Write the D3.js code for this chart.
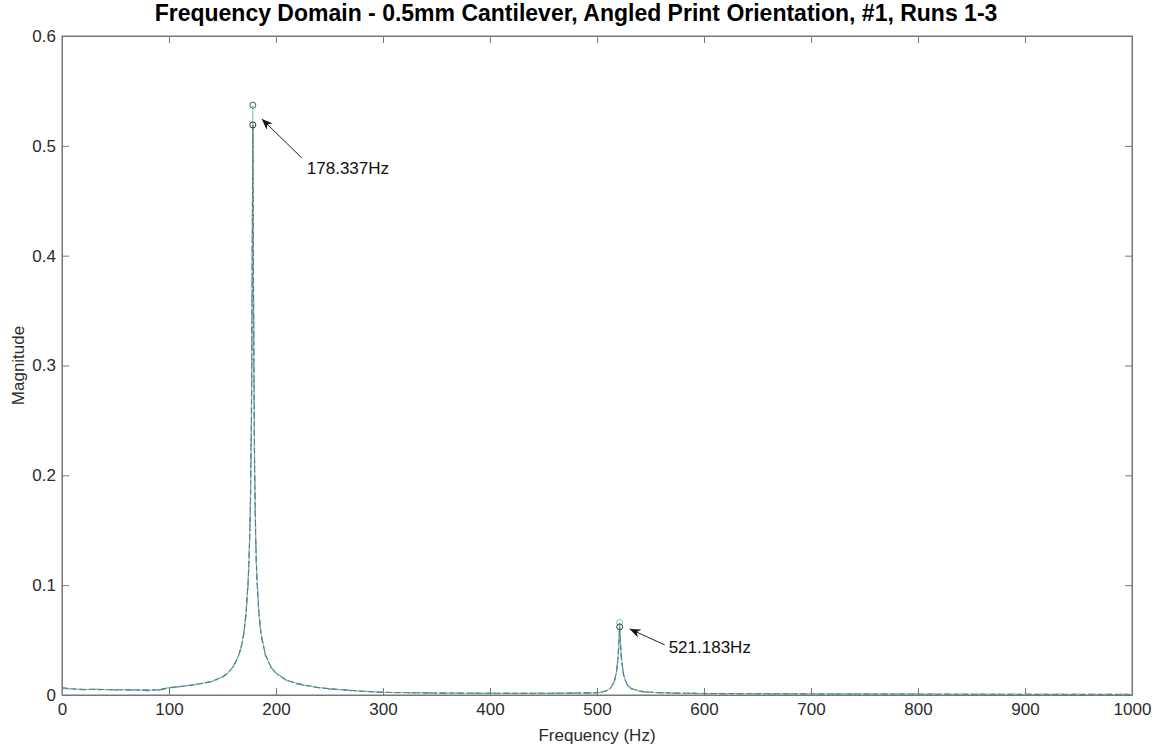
<!DOCTYPE html>
<html><head><meta charset="utf-8">
<script src="https://cdn.jsdelivr.net/npm/d3@7"></script>
<style>body{margin:0;background:#fff;} svg{display:block;font-family:"Liberation Sans",Arial,sans-serif;}</style>
</head><body><svg id="c" width="1167" height="754"></svg>
<script>
const title = "Frequency Domain - 0.5mm Cantilever, Angled Print Orientation, #1, Runs 1-3";
const xLabel = "Frequency (Hz)";
const yLabel = "Magnitude";
const xTicks = [0,100,200,300,400,500,600,700,800,900,1000];
const yTicks = [0,0.1,0.2,0.3,0.4,0.5,0.6];
const freq = [0,10,20,30,40,50,60,70,80,90,100,110,120,130,140,150,155,160,165,168,170,172,174,175,176,177,177.5,178,178.337,178.7,179,179.5,180,181,182,184,186,190,195,200,210,220,230,240,250,260,280,300,350,400,450,500,505,510,513,516,518,519.5,520.5,521.183,522,523,525,528,532,540,550,570,600,650,700,800,900,1000];
const run1 = [0.0062,0.0054,0.0049,0.0051,0.0049,0.0047,0.0046,0.0044,0.0040,0.0042,0.0064,0.0076,0.0088,0.0103,0.0123,0.0163,0.0198,0.0257,0.0355,0.0452,0.0562,0.0740,0.1030,0.1280,0.1670,0.2450,0.3250,0.4400,0.5190,0.4500,0.3620,0.2740,0.2060,0.1420,0.1080,0.0740,0.0552,0.0365,0.0256,0.0196,0.0132,0.0102,0.0083,0.0066,0.0056,0.0048,0.0034,0.0024,0.0017,0.0015,0.0014,0.0019,0.0027,0.0043,0.0065,0.0115,0.0192,0.0315,0.0470,0.0600,0.0455,0.0305,0.0172,0.0096,0.0058,0.0034,0.0024,0.0017,0.0013,0.0011,0.0009,0.0007,0.0006,0.0005];
const run2 = [0.0066,0.0056,0.0051,0.0052,0.0050,0.0048,0.0048,0.0047,0.0046,0.0048,0.0066,0.0077,0.0089,0.0104,0.0124,0.0164,0.0199,0.0258,0.0357,0.0455,0.0565,0.0745,0.1040,0.1290,0.1680,0.2470,0.3280,0.4420,0.5190,0.4520,0.3640,0.2760,0.2070,0.1430,0.1090,0.0745,0.0556,0.0368,0.0258,0.0198,0.0134,0.0104,0.0084,0.0067,0.0057,0.0049,0.0034,0.0024,0.0018,0.0016,0.0015,0.0020,0.0028,0.0044,0.0067,0.0118,0.0196,0.0322,0.0482,0.0620,0.0465,0.0312,0.0176,0.0098,0.0059,0.0035,0.0025,0.0018,0.0014,0.0012,0.0010,0.0008,0.0006,0.0005];
const run3 = [0.0065,0.0055,0.0050,0.0052,0.0050,0.0048,0.0048,0.0047,0.0045,0.0048,0.0068,0.0078,0.0090,0.0105,0.0125,0.0165,0.0200,0.0260,0.0360,0.0460,0.0570,0.0750,0.1050,0.1300,0.1700,0.2500,0.3300,0.4500,0.5370,0.4600,0.3700,0.2800,0.2100,0.1450,0.1100,0.0750,0.0560,0.0370,0.0260,0.0200,0.0135,0.0105,0.0085,0.0068,0.0058,0.0050,0.0035,0.0025,0.0018,0.0016,0.0015,0.0020,0.0028,0.0045,0.0068,0.0120,0.0200,0.0330,0.0500,0.0660,0.0480,0.0320,0.0180,0.0100,0.0060,0.0035,0.0025,0.0018,0.0014,0.0012,0.0010,0.0008,0.0006,0.0005];
const peakFreqs = [178.337, 178.337, 521.183, 521.183];
const peakMags = [0.537, 0.519, 0.066, 0.062];
const peakColors = ["#555555", "#333333", "#5cc8c0", "#444444"];
const annoText = ["178.337Hz", "521.183Hz"];
const annoFreq = [178.337, 521.183];
const annoMag = [0.519, 0.062];

const svg = d3.select("#c");
const L = 62, R = 1132, T = 36, B = 695;
const x = d3.scaleLinear().domain([0,1000]).range([L,R]);
const y = d3.scaleLinear().domain([0,0.6]).range([B,T]);
const axisCol = "#2b2b2b";
const FS = "17px";

svg.append("rect").attr("x",L).attr("y",T).attr("width",R-L).attr("height",B-T)
  .attr("fill","none").attr("stroke","#777").attr("stroke-width",1);

const fmtY = d => d === 0 ? "0" : d3.format(".1f")(d);
const gx = svg.append("g").attr("transform",`translate(0,${B})`)
  .call(d3.axisBottom(x).tickValues(xTicks).tickSize(-7).tickPadding(8).tickFormat(d3.format("d")));
const gxt = svg.append("g").attr("transform",`translate(0,${T})`)
  .call(d3.axisTop(x).tickValues(xTicks).tickSize(-7).tickFormat(""));
const gy = svg.append("g").attr("transform",`translate(${L},0)`)
  .call(d3.axisLeft(y).tickValues(yTicks).tickSize(-7).tickPadding(6).tickFormat(fmtY));
const gyr = svg.append("g").attr("transform",`translate(${R},0)`)
  .call(d3.axisRight(y).tickValues(yTicks).tickSize(-7).tickFormat(""));
[gx,gxt,gy,gyr].forEach(g=>{
  g.select(".domain").attr("stroke","#777");
  g.selectAll(".tick line").attr("stroke","#777");
  g.selectAll("text").attr("fill",axisCol).style("font-size",FS).style("font-family","'Liberation Sans',Arial,sans-serif");
});

const line = d3.line().x((d,i)=>x(freq[i])).y(d=>y(d));
svg.append("path").datum(run1).attr("d",line).attr("fill","none").attr("stroke","#2f6db5").attr("stroke-width",1.2).attr("stroke-dasharray","8,3,2,3");
svg.append("path").datum(run3).attr("d",line).attr("fill","none").attr("stroke","#6fcfc8").attr("stroke-width",1.1);
svg.append("path").datum(run2).attr("d",line).attr("fill","none").attr("stroke","#707070").attr("stroke-width",1).attr("stroke-dasharray","6,3");

svg.selectAll("circle.pk").data(peakFreqs).enter().append("circle").attr("class","pk")
  .attr("cx",d=>x(d)).attr("cy",(d,i)=>y(peakMags[i])).attr("r",3)
  .attr("fill","none").attr("stroke",(d,i)=>peakColors[i]).attr("stroke-width",1);

svg.append("defs").append("marker").attr("id","ah").attr("viewBox","0 0 10 10").attr("refX",10).attr("refY",5)
  .attr("markerWidth",11).attr("markerHeight",11).attr("markerUnits","userSpaceOnUse").attr("orient","auto")
  .append("path").attr("d","M0,1 L10,5 L0,9 L3,5 Z").attr("fill","#111");
const annoOff = [[49,33,54,49],[45,18,49,26]];
const headOff = [[9,-6],[10,2]];
annoFreq.forEach((f,i)=>{
  const px = x(f), py = y(annoMag[i]);
  svg.append("line").attr("x1",px+annoOff[i][0]).attr("y1",py+annoOff[i][1])
    .attr("x2",px+headOff[i][0]).attr("y2",py+headOff[i][1]).attr("stroke","#222").attr("stroke-width",1).attr("marker-end","url(#ah)");
  svg.append("text").attr("x",px+annoOff[i][2]).attr("y",py+annoOff[i][3]).text(annoText[i])
    .attr("fill","#111").style("font-size",FS);
});

svg.append("text").attr("x",576).attr("y",21).attr("text-anchor","middle")
  .style("font-weight","bold").style("font-size","23px").attr("fill","#000").text(title);
svg.append("text").attr("x",(L+R)/2).attr("y",741).attr("text-anchor","middle")
  .style("font-size",FS).attr("fill",axisCol).text(xLabel);
svg.append("text").attr("transform",`translate(24,${(T+B)/2}) rotate(-90)`).attr("text-anchor","middle")
  .style("font-size",FS).attr("fill",axisCol).text(yLabel);
</script></body></html>
